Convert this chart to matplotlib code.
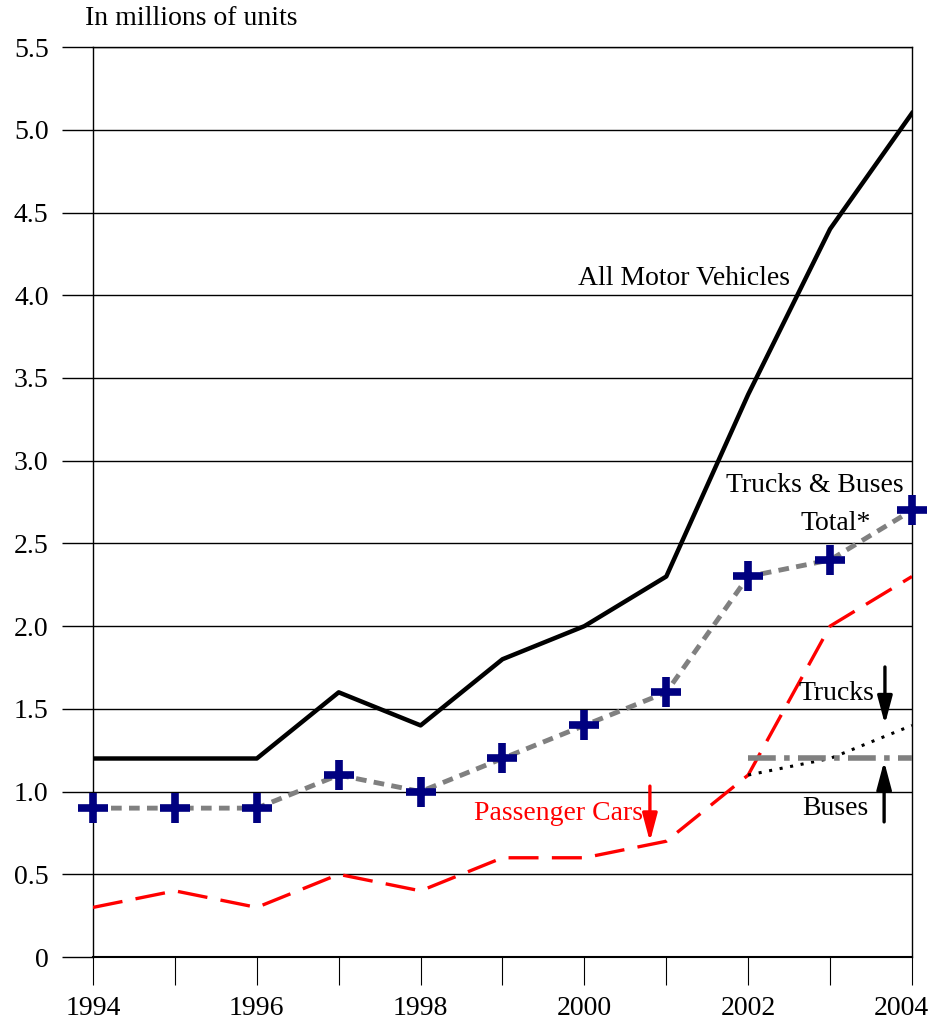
import matplotlib.pyplot as plt
import matplotlib.transforms as mtransforms
import numpy as np

plt.rcParams['font.family'] = ['Liberation Serif', 'DejaVu Serif']

years = [1994, 1995, 1996, 1997, 1998, 1999, 2000, 2001, 2002, 2003, 2004]
all_motor = [1.2, 1.2, 1.2, 1.6, 1.4, 1.8, 2.0, 2.3, 3.4, 4.4, 5.1]
trucks_buses = [0.9, 0.9, 0.9, 1.1, 1.0, 1.2, 1.4, 1.6, 2.3, 2.4, 2.7]
passenger = [0.3, 0.4, 0.3, 0.5, 0.4, 0.6, 0.6, 0.7, 1.1, 2.0, 2.3]
late_years = [2002, 2003, 2004]
trucks = [1.1, 1.2, 1.4]
buses = [1.2, 1.2, 1.2]

fig = plt.figure(figsize=(9.34, 10.25), dpi=100)
ax = fig.add_axes([0.0996, 0.0663, 0.8768, 0.8878])

# grid lines
for v in np.arange(0.5, 5.51, 0.5):
    ax.axhline(v, color='black', lw=1, zorder=1)

ax.plot(years, all_motor, color='black', lw=3.2, zorder=3)
ax.plot(years, passenger, color='red', lw=2.4, dashes=(9, 4), zorder=3)
ax.plot(late_years, trucks, color='black', lw=2.2, linestyle=(0, (1, 2.5)), zorder=3)
ax.plot(late_years, buses, color='#808080', lw=4, dashes=(5, 1.5, 1, 1.5), zorder=3)
ax.plot(years, trucks_buses, color='#808080', lw=3.5, dashes=(2.2, 1.5), zorder=4)
ax.plot(years, trucks_buses, linestyle='none', marker='+', markersize=22,
        mew=5.5, color='#000080', zorder=5, clip_on=False)

ax.set_xlim(1994, 2004)
ax.set_ylim(0, 5.5)
ax.set_yticks(np.arange(0, 5.51, 0.5))
ax.set_yticklabels(['0', '0.5', '1.0', '1.5', '2.0', '2.5', '3.0', '3.5',
                    '4.0', '4.5', '5.0', '5.5'])
ax.set_xticks(range(1994, 2005, 2))
ax.set_xticks(range(1995, 2005, 2), minor=True)
ax.tick_params(axis='y', length=22, width=1, pad=10, labelsize=20)
ax.tick_params(axis='x', which='both', length=20, width=0.8, pad=8, labelsize=20)
for sp in ax.spines.values():
    sp.set_linewidth(1)
ax.spines['bottom'].set_linewidth(1.5)

# nudge the last year label so it stays inside the picture
last = ax.get_xticklabels()[-1]
last.set_transform(last.get_transform() +
                   mtransforms.ScaledTranslation(-8 / 72, 0, fig.dpi_scale_trans))

fig.text(0.091, 0.982, 'In millions of units', fontsize=20, ha='left', va='center')

ax.text(2001.22, 4.1, 'All Motor Vehicles', fontsize=20, ha='center', va='center')
ax.text(2003.9, 2.85, 'Trucks & Buses', fontsize=20, ha='right', va='center')
ax.text(2003.07, 2.62, 'Total*', fontsize=20, ha='center', va='center')
ax.text(2003.08, 1.59, 'Trucks', fontsize=20, ha='center', va='center')
ax.text(2003.06, 0.9, 'Buses', fontsize=20, ha='center', va='center')
ax.text(1999.68, 0.87, 'Passenger Cars', fontsize=20, ha='center', va='center', color='red')

arrow = dict(arrowstyle='-|>,head_length=0.6,head_width=0.16', lw=2.4, mutation_scale=28)
ax.annotate('', xy=(2003.67, 1.39), xytext=(2003.67, 1.77),
            arrowprops=dict(arrow, color='black'))
ax.annotate('', xy=(2003.66, 1.2), xytext=(2003.66, 0.8),
            arrowprops=dict(arrow, color='black'))
ax.annotate('', xy=(2000.8, 0.68), xytext=(2000.8, 1.05),
            arrowprops=dict(arrow, color='red'))

fig.savefig('out.png', dpi=100)
